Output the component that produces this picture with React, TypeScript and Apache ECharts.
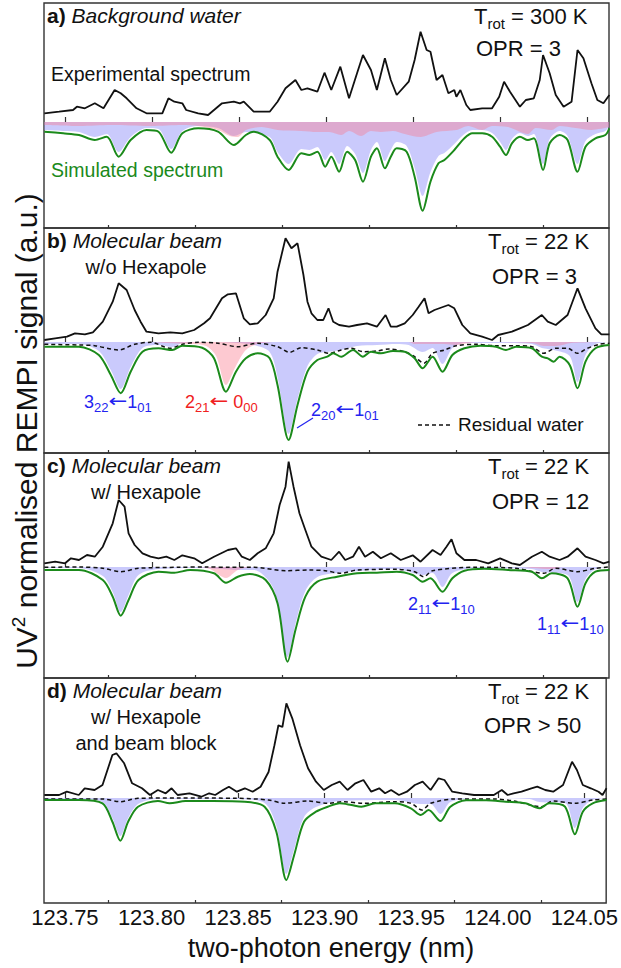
import React, { useEffect, useRef } from "react";
import * as echarts from "echarts";

// ---------- axis ----------
const X_MIN = 123.7379;
const X_MAX = 124.0626;
const majorTicks = [123.75, 123.8, 123.85, 123.9, 123.95, 124.0, 124.05];
const minorTicks = [123.775, 123.825, 123.875, 123.925, 123.975, 124.025];

// ---------- panel a : background water ----------
const expA: number[][] = [[123.7381,8.7],[123.7466,10.3],[123.7546,12],[123.7568,15.3],[123.7614,13.7],[123.7671,18.7],[123.7721,13.7],[123.7785,32],[123.7820,28.7],[123.7854,23.7],[123.7911,13.7],[123.7968,8.7],[123.8059,8.7],[123.8094,23.7],[123.8128,20.3],[123.8174,18.7],[123.8196,12],[123.8265,8.7],[123.8322,7],[123.8402,18.7],[123.8470,20.3],[123.8505,18.7],[123.8527,20.3],[123.8584,10.3],[123.8676,10.3],[123.8721,20.3],[123.8767,33.7],[123.8824,42],[123.8858,32],[123.8893,33.7],[123.8950,30.3],[123.8991,49.3],[123.9030,32],[123.9082,55.3],[123.9132,23.7],[123.9178,48.7],[123.9212,67],[123.9258,52],[123.9292,32],[123.9338,63.7],[123.9372,42],[123.9406,27],[123.9475,40.3],[123.9509,62],[123.9543,90.3],[123.9578,72],[123.9600,70.3],[123.9635,42],[123.9669,47],[123.9703,28.7],[123.9737,32],[123.9749,25.3],[123.9772,32],[123.9806,17],[123.9829,12],[123.9897,13.7],[123.9954,13.7],[123.9995,25.3],[124.0023,40.3],[124.0057,30.3],[124.0114,15.3],[124.0148,22],[124.0194,23.7],[124.0228,42],[124.0247,67],[124.0285,48.7],[124.0320,27],[124.0365,15.3],[124.0411,20.3],[124.0445,72],[124.0479,63.7],[124.0525,38.7],[124.0559,22],[124.0594,18.7],[124.0628,27]];
const simA: number[][] = [[123.7381,-9.7],[123.7489,-11.3],[123.7580,-13],[123.7671,-18],[123.7740,-14.7],[123.7808,-34.7],[123.7877,-18],[123.7968,-8],[123.8037,-9.7],[123.8110,-30.7],[123.8174,-11.3],[123.8265,-6.3],[123.8379,-9.7],[123.8470,-23],[123.8539,-13],[123.8584,-9.7],[123.8676,-18],[123.8721,-34.7],[123.8785,-48],[123.8858,-31.3],[123.8904,-33],[123.8950,-29.7],[123.8995,-44.7],[123.9030,-34.7],[123.9075,-49.7],[123.9121,-29.7],[123.9167,-38],[123.9212,-59.7],[123.9258,-34.7],[123.9292,-26.3],[123.9338,-46.3],[123.9372,-34.7],[123.9406,-26.3],[123.9463,-29.7],[123.9509,-54.7],[123.9555,-88.7],[123.9600,-59.7],[123.9646,-41.3],[123.9680,-38],[123.9737,-28],[123.9795,-16.3],[123.9840,-11.3],[123.9897,-11.3],[123.9954,-14.7],[124.0000,-24.7],[124.0034,-33],[124.0068,-21.3],[124.0114,-14.7],[124.0160,-18],[124.0194,-16.3],[124.0247,-48],[124.0285,-21.3],[124.0342,-13],[124.0388,-18],[124.0445,-49.7],[124.0491,-24.7],[124.0548,-16.3],[124.0605,-13],[124.0628,-6.3]];
const orthoA: number[][] = [[123.7381,-8],[123.7489,-9],[123.7580,-10],[123.7671,-15],[123.7740,-12],[123.7808,-30],[123.7877,-15],[123.7968,-6],[123.8037,-7],[123.8110,-27],[123.8174,-9],[123.8265,-4],[123.8379,-6],[123.8470,-14],[123.8539,-10],[123.8676,-15],[123.8721,-30],[123.8785,-42],[123.8858,-27],[123.8904,-28],[123.8950,-25],[123.8995,-38],[123.9030,-30],[123.9075,-42],[123.9121,-24],[123.9167,-32],[123.9212,-51],[123.9258,-28],[123.9292,-20],[123.9338,-39],[123.9372,-28],[123.9406,-20],[123.9463,-24],[123.9509,-46],[123.9555,-74],[123.9600,-50],[123.9646,-34],[123.9680,-31],[123.9737,-22],[123.9795,-12],[123.9840,-8],[123.9897,-8],[123.9954,-11],[124.0000,-20],[124.0034,-28],[124.0068,-17],[124.0114,-11],[124.0160,-14],[124.0194,-12],[124.0247,-42],[124.0285,-17],[124.0342,-9],[124.0388,-14],[124.0445,-42],[124.0491,-19],[124.0548,-12],[124.0605,-9],[124.0628,-4]];
const paraA: number[][] = [[123.7381,-3],[123.7580,-4],[123.7763,-3],[123.7991,-4],[123.8174,-3],[123.8265,-4],[123.8379,-8],[123.8447,-14],[123.8493,-15],[123.8539,-8],[123.8630,-5],[123.8721,-8],[123.8858,-9],[123.8950,-10],[123.9018,-10],[123.9087,-13],[123.9132,-9],[123.9201,-14],[123.9258,-9],[123.9315,-10],[123.9384,-9],[123.9452,-12],[123.9543,-15],[123.9635,-10],[123.9749,-8],[123.9817,-4],[123.9897,-8],[123.9954,-4],[124.0046,-5],[124.0160,-12],[124.0205,-6],[124.0297,-8],[124.0342,-4],[124.0434,-6],[124.0525,-8],[124.0628,-5]];

// ---------- panel b : molecular beam w/o hexapole ----------
const expB: number[][] = [[123.7381,2],[123.7443,3.7],[123.7511,5.3],[123.7557,8.7],[123.7614,7.7],[123.7660,9.7],[123.7717,20.3],[123.7774,40.3],[123.7808,58.7],[123.7854,52],[123.7900,32],[123.7934,20.3],[123.7968,10.3],[123.8037,8.7],[123.8105,9.7],[123.8174,8.7],[123.8242,12],[123.8299,18.7],[123.8333,23.7],[123.8402,43.7],[123.8436,47.7],[123.8482,48.7],[123.8527,23.7],[123.8562,17.7],[123.8607,18.7],[123.8653,27],[123.8699,43.7],[123.8721,70.3],[123.8767,103.7],[123.8801,93.7],[123.8836,98.7],[123.8870,67],[123.8893,40.3],[123.8916,28.7],[123.8950,22],[123.8984,22],[123.9014,33.7],[123.9041,20.3],[123.9075,17],[123.9132,15.3],[123.9178,17],[123.9235,18.7],[123.9292,15.3],[123.9342,27],[123.9372,15.3],[123.9406,15.3],[123.9452,18.7],[123.9498,27],[123.9532,35.3],[123.9566,43.7],[123.9589,28.7],[123.9623,32],[123.9703,37],[123.9737,33.7],[123.9783,17],[123.9829,8.7],[123.9897,5.3],[123.9954,2],[123.9989,7],[124.0068,10.3],[124.0114,13.7],[124.0160,17],[124.0240,27],[124.0274,20.3],[124.0320,17],[124.0388,27],[124.0445,53.7],[124.0491,33.7],[124.0548,13.7],[124.0582,7.7],[124.0628,7.7]];
const simB: number[][] = [[123.7381,-4.7],[123.7580,-4.7],[123.7694,-13],[123.7763,-33],[123.7820,-51.3],[123.7877,-29.7],[123.7945,-9.7],[123.8037,-6.3],[123.8116,-8],[123.8174,-3.7],[123.8288,-5.7],[123.8356,-16.3],[123.8425,-49.7],[123.8482,-29.7],[123.8539,-16.3],[123.8607,-11.3],[123.8676,-16.3],[123.8721,-43],[123.8785,-98],[123.8836,-63],[123.8893,-29.7],[123.8950,-18],[123.9007,-14.7],[123.9041,-11.3],[123.9087,-14.7],[123.9155,-8],[123.9212,-14.7],[123.9258,-9.7],[123.9315,-11.3],[123.9384,-9],[123.9452,-9.7],[123.9509,-16.3],[123.9555,-26.3],[123.9612,-14.7],[123.9669,-29.7],[123.9726,-13],[123.9795,-6.3],[123.9886,-3.7],[123.9977,-4.7],[124.0034,-8],[124.0091,-4.7],[124.0183,-6.3],[124.0240,-14.7],[124.0274,-16.3],[124.0308,-19.7],[124.0342,-14.7],[124.0400,-23],[124.0445,-46.3],[124.0491,-19.7],[124.0548,-6.3],[124.0628,-3]];
const resB: number[][] = [[123.7381,-2.3],[123.7580,-3],[123.7671,-3.7],[123.7808,-8],[123.7900,-2.3],[123.7991,-0.3],[123.8105,-6.3],[123.8174,-2.3],[123.8265,-0.3],[123.8379,-1.3],[123.8493,-4.7],[123.8607,-1.3],[123.8721,-4.7],[123.8790,-10.3],[123.8858,-5.7],[123.8950,-8],[123.9018,-11.3],[123.9087,-8],[123.9144,-6.3],[123.9212,-9.7],[123.9292,-9],[123.9361,-7],[123.9452,-9.7],[123.9509,-14.7],[123.9562,-21.3],[123.9612,-11.3],[123.9680,-8],[123.9749,-3.7],[123.9863,-2.3],[123.9977,-3.7],[124.0091,-3.7],[124.0183,-4.7],[124.0251,-11.3],[124.0320,-6.3],[124.0388,-6.3],[124.0445,-11.3],[124.0502,-6.3],[124.0571,-2.3],[124.0628,-1.3]];
const orthoB: number[][] = [[123.7381,-2],[123.7580,-2],[123.7694,-9],[123.7763,-28],[123.7820,-47],[123.7877,-25],[123.7945,-6],[123.8037,-3],[123.8116,-5],[123.8174,-1],[123.8311,0],[123.8493,-1],[123.8584,-3],[123.8676,-10],[123.8721,-35],[123.8785,-92],[123.8836,-57],[123.8893,-24],[123.8950,-12],[123.9007,-10],[123.9087,-8],[123.9178,-4],[123.9292,-3],[123.9406,-2],[123.9475,-3],[123.9555,-10],[123.9612,-6],[123.9669,-22],[123.9726,-6],[123.9795,-1],[123.9977,-1],[124.0183,-2],[124.0240,-6],[124.0308,-8],[124.0400,-14],[124.0445,-40],[124.0491,-13],[124.0548,-2],[124.0628,0]];
const paraB: number[][] = [[123.7381,0],[123.7991,0],[123.8082,-1],[123.8219,-2],[123.8311,-4],[123.8368,-14],[123.8425,-43],[123.8482,-24],[123.8539,-8],[123.8607,-2],[123.8721,0],[123.9475,0],[123.9509,-2],[123.9589,-2],[123.9680,-2],[123.9749,-3],[123.9863,0],[124.0183,-1],[124.0251,-4],[124.0320,-4],[124.0411,-1],[124.0628,0]];

// ---------- panel c : molecular beam w/ hexapole ----------
const expC: number[][] = [[123.7381,3.7],[123.7443,5.3],[123.7500,3.7],[123.7534,8.7],[123.7580,7],[123.7626,12],[123.7671,10.3],[123.7717,20.3],[123.7774,43.7],[123.7808,67],[123.7842,60.3],[123.7865,33.7],[123.7900,22],[123.7945,13.7],[123.7991,10.3],[123.8037,8.7],[123.8082,10.3],[123.8128,7],[123.8174,11.7],[123.8242,8.7],[123.8288,3.7],[123.8356,10.3],[123.8436,17],[123.8482,18.7],[123.8516,10.3],[123.8562,7],[123.8607,13.7],[123.8653,18.7],[123.8699,33.7],[123.8733,62],[123.8767,80.3],[123.8785,105.3],[123.8813,80.3],[123.8847,53.7],[123.8881,37],[123.8916,20.3],[123.8973,10.3],[123.9030,7],[123.9075,15.3],[123.9110,7],[123.9155,10.3],[123.9189,20.3],[123.9224,10.3],[123.9269,15.3],[123.9315,8.7],[123.9372,13.7],[123.9429,7],[123.9498,11.7],[123.9543,5.3],[123.9612,17],[123.9658,12],[123.9692,20.3],[123.9721,27.7],[123.9749,13.7],[123.9795,7],[123.9863,7],[123.9932,3.7],[124.0000,8.7],[124.0068,3.7],[124.0114,2],[124.0183,10.3],[124.0240,15.3],[124.0285,10.3],[124.0342,7],[124.0388,10.3],[124.0445,18.7],[124.0491,10.3],[124.0548,7],[124.0594,3.7],[124.0628,5.3]];
const simC: number[][] = [[123.7381,-3],[123.7580,-3],[123.7717,-13],[123.7774,-29.7],[123.7820,-48.7],[123.7865,-33],[123.7922,-13],[123.8037,-4.7],[123.8128,-5.7],[123.8219,-3],[123.8356,-6.3],[123.8425,-15.7],[123.8493,-9.7],[123.8562,-7],[123.8653,-13],[123.8721,-36.3],[123.8779,-94.7],[123.8824,-63],[123.8881,-29.7],[123.8950,-14.7],[123.9064,-9.7],[123.9178,-6.3],[123.9292,-5.7],[123.9406,-4.7],[123.9498,-8],[123.9555,-14.7],[123.9600,-11.3],[123.9669,-24.7],[123.9726,-11.3],[123.9795,-3.7],[123.9909,-1.7],[124.0046,-3],[124.0183,-4.7],[124.0240,-11.3],[124.0297,-6.3],[124.0388,-11.3],[124.0445,-39.7],[124.0491,-16.3],[124.0548,-4.7],[124.0628,-3]];
const resC: number[][] = [[123.7381,-0.3],[123.7580,0],[123.7717,-1.3],[123.7820,-4.7],[123.7922,-1.3],[123.8151,-0.3],[123.8311,0],[123.8447,-0.3],[123.8584,-0.3],[123.8767,-3.7],[123.8904,-3],[123.8995,-3.7],[123.9087,-6.3],[123.9178,-3],[123.9406,-2.3],[123.9509,-4.7],[123.9562,-9.7],[123.9612,-3.7],[123.9863,-0.3],[124.0091,-1.3],[124.0251,-6.3],[124.0320,-1.3],[124.0445,-4.7],[124.0548,-1.3],[124.0628,0]];
const orthoC: number[][] = [[123.7381,-1],[123.7580,-1],[123.7717,-9],[123.7774,-25],[123.7820,-45],[123.7865,-28],[123.7922,-8],[123.8037,-2],[123.8265,-1],[123.8402,-2],[123.8493,-3],[123.8584,-3],[123.8699,-22],[123.8779,-90],[123.8824,-57],[123.8881,-24],[123.8950,-10],[123.9064,-6],[123.9406,-2],[123.9555,-8],[123.9612,-6],[123.9669,-20],[123.9726,-6],[123.9863,-1],[124.0183,-2],[124.0240,-5],[124.0388,-8],[124.0445,-35],[124.0491,-12],[124.0548,-2],[124.0628,0]];
const paraC: number[][] = [[123.7381,0],[123.8265,0],[123.8333,-2],[123.8425,-11],[123.8493,-3],[123.8584,0],[124.0137,0],[124.0183,-1],[124.0297,-2],[124.0365,0],[124.0628,0]];

// ---------- panel d : w/ hexapole and beam block ----------
const expD: number[][] = [[123.7381,3],[123.7466,3],[123.7511,6.3],[123.7580,3],[123.7614,9.7],[123.7671,8],[123.7717,13],[123.7774,43],[123.7797,44.7],[123.7842,34.7],[123.7888,14.7],[123.7945,9.7],[123.7991,3],[123.8037,8],[123.8082,4.7],[123.8116,9.7],[123.8151,3],[123.8219,4.7],[123.8288,1.3],[123.8333,4.7],[123.8368,3],[123.8413,8],[123.8447,11.3],[123.8493,6.3],[123.8539,9.7],[123.8584,6.3],[123.8630,11.3],[123.8676,26],[123.8710,52.7],[123.8733,72.7],[123.8756,71],[123.8779,94.7],[123.8813,79.7],[123.8858,52.7],[123.8904,29.7],[123.8950,16.3],[123.8995,8],[123.9041,13],[123.9087,16.3],[123.9132,8],[123.9178,14.7],[123.9224,18],[123.9269,6.3],[123.9315,9.7],[123.9349,4.7],[123.9384,8],[123.9429,3],[123.9475,6.3],[123.9521,13],[123.9566,16.3],[123.9612,8],[123.9658,19.7],[123.9692,18],[123.9737,6.3],[123.9795,4.7],[123.9863,3],[123.9977,3],[124.0023,8],[124.0057,3],[124.0091,4.7],[124.0137,6.3],[124.0194,9.7],[124.0228,11.3],[124.0274,8],[124.0320,6.3],[124.0377,13],[124.0429,36.3],[124.0457,28],[124.0491,13],[124.0537,9.7],[124.0582,6.3],[124.0605,3],[124.0628,9.7]];
const simD: number[][] = [[123.7381,-2],[123.7580,-2],[123.7717,-5.3],[123.7774,-23.7],[123.7820,-42.7],[123.7865,-23.7],[123.7922,-8.7],[123.8037,-3],[123.8105,-5.3],[123.8196,-3],[123.8356,-3],[123.8539,-3.7],[123.8653,-8.7],[123.8721,-33.7],[123.8779,-82],[123.8824,-57],[123.8881,-23.7],[123.8950,-13.7],[123.9018,-8.7],[123.9087,-5.3],[123.9155,-7],[123.9212,-8.7],[123.9292,-5.3],[123.9406,-5.3],[123.9498,-10.3],[123.9555,-17],[123.9600,-12],[123.9669,-23],[123.9726,-8.7],[123.9817,-2.3],[123.9932,-2.3],[124.0046,-3.7],[124.0160,-5.3],[124.0240,-10.3],[124.0297,-5.3],[124.0388,-8.7],[124.0445,-36.3],[124.0491,-13.7],[124.0548,-5.3],[124.0628,-2]];
const resD: number[][] = [[123.7381,-1],[123.7580,-1],[123.7717,-1],[123.7820,-3.7],[123.7922,-0.3],[123.8151,0],[123.8493,-0.3],[123.8676,-2],[123.8767,-5.3],[123.8904,-3],[123.9018,-5.3],[123.9110,-3.7],[123.9224,-5.3],[123.9406,-3.7],[123.9498,-5.3],[123.9562,-12],[123.9612,-5.3],[123.9749,-1],[123.9977,-1],[124.0091,-3],[124.0251,-8.7],[124.0320,-3],[124.0445,-5.3],[124.0548,-2],[124.0628,-1]];
const orthoD: number[][] = [[123.7381,-1],[123.7580,-1],[123.7717,-4],[123.7774,-20],[123.7820,-38],[123.7865,-20],[123.7922,-6],[123.8037,-1],[123.8493,-1],[123.8653,-5],[123.8721,-28],[123.8779,-76],[123.8824,-51],[123.8881,-19],[123.8950,-9],[123.9087,-3],[123.9406,-2],[123.9555,-6],[123.9612,-6],[123.9669,-16],[123.9726,-4],[123.9863,0],[124.0183,-1],[124.0240,-4],[124.0388,-5],[124.0445,-30],[124.0491,-10],[124.0548,-2],[124.0628,0]];

const panelRanges = [[-106, 119], [-111, 114], [-111, 114], [-105, 120]];

// ---------- layout / style ----------
const W = 621, H = 968;
const GRID_LEFT = 44, GRID_W = 565, GRID_H = 225;
const panelTops = [3, 228, 453, 678];
const FONT = '"Liberation Sans", Arial, sans-serif';
const ARROW_FONT = '"DejaVu Sans", sans-serif';
const BLACK = "#111111";
const GREEN = "#1b8a1b";
const BLUE_TXT = "#2323f0";
const RED_TXT = "#f02020";
const BLUE_FILL = "rgba(150,150,250,0.5)";
const PINK_FILL = "rgba(250,120,140,0.4)";

type Run = { t: string; s: number; dy?: number; c?: string; st?: string; w?: string; f?: string; sx?: number };

let measureCtx: CanvasRenderingContext2D | null = null;
function tw(r: Run): number {
  if (!measureCtx) measureCtx = document.createElement("canvas").getContext("2d");
  measureCtx!.font = `${r.st || "normal"} ${r.w || "normal"} ${r.s}px ${r.f || FONT}`;
  return measureCtx!.measureText(r.t).width * (r.sx || 1);
}

function runs(x0: number, base: number, parts: Run[], align = "left", color = BLACK): any[] {
  const ws = parts.map(tw);
  const total = ws.reduce((a, b) => a + b, 0);
  let x = align === "center" ? x0 - total / 2 : align === "right" ? x0 - total : x0;
  return parts.map((p, i) => {
    const el: any = {
      type: "text",
      x,
      y: base + (p.dy || 0) - 0.35 * p.s,
      silent: true,
      style: {
        text: p.t,
        fontSize: p.s,
        fontFamily: p.f || FONT,
        fontStyle: p.st || "normal",
        fontWeight: p.w || "normal",
        fill: p.c || color,
        textAlign: "left",
        textVerticalAlign: "middle",
      },
    };
    if (p.sx) el.scaleX = p.sx;
    x += ws[i];
    return el;
  });
}

function trans(x: number, base: number, a: string, aSub: string, b: string, bSub: string, color: string, gap = false) {
  const parts: Run[] = [
    { t: a, s: 18 },
    { t: aSub, s: 13, dy: 4 },
    { t: "\u2190", s: 18, f: ARROW_FONT, sx: 1.25, dy: -1 },
  ];
  if (gap) parts.push({ t: " ", s: 18 });
  parts.push({ t: b, s: 18 }, { t: bSub, s: 13, dy: 4 });
  return runs(x, base, parts, "left", color);
}

function trot(x: number, base: number, val: string) {
  return runs(x, base, [{ t: "T", s: 22 }, { t: "rot", s: 15, dy: 5 }, { t: " = " + val, s: 22 }]);
}

function panelLabel(base: number, letter: string, title: string) {
  return runs(47, base, [{ t: letter, s: 21, w: "bold" }, { t: " " + title, s: 21, st: "italic" }]);
}

function buildOption() {
  const grids: any[] = [];
  const xAxes: any[] = [];
  const yAxes: any[] = [];
  const series: any[] = [];
  const panels = [
    { exp: expA, sim: simA, ortho: orthoA, para: paraA, res: null },
    { exp: expB, sim: simB, ortho: orthoB, para: paraB, res: resB },
    { exp: expC, sim: simC, ortho: orthoC, para: paraC, res: resC },
    { exp: expD, sim: simD, ortho: orthoD, para: null, res: resD },
  ];
  panels.forEach((p, i) => {
    grids.push({
      left: GRID_LEFT, top: panelTops[i], width: GRID_W, height: GRID_H,
      show: true, borderColor: "#333", borderWidth: 1.4, backgroundColor: "transparent",
    });
    const common = {
      type: "value", gridIndex: i, min: X_MIN, max: X_MAX, position: "bottom",
      axisLine: { show: false }, splitLine: { show: false },
    };
    xAxes.push({
      ...common,
      axisTick: { show: true, inside: true, length: 5, customValues: majorTicks, lineStyle: { color: "#333", width: 1.2 } },
      axisLabel: {
        show: i === 3, customValues: majorTicks, margin: 3, fontSize: 22, fontFamily: FONT, color: BLACK,
        formatter: (v: number) => v.toFixed(2),
      },
    });
    xAxes.push({
      ...common,
      axisTick: { show: true, inside: true, length: 3, customValues: minorTicks, lineStyle: { color: "#333", width: 1.2 } },
      axisLabel: { show: false },
    });
    yAxes.push({ type: "value", gridIndex: i, min: panelRanges[i][0], max: panelRanges[i][1], show: false });
    const xi = 2 * i;
    const area = (data: number[][], color: string) => ({
      type: "line", xAxisIndex: xi, yAxisIndex: i, data, smooth: 0.3, showSymbol: false, symbol: "none",
      lineStyle: { width: 0, opacity: 0 }, areaStyle: { color, opacity: 1 }, silent: true, z: 1,
    });
    series.push(area(p.ortho, BLUE_FILL));
    if (p.para) series.push(area(p.para, PINK_FILL));
    if (p.res) series.push({
      type: "line", xAxisIndex: xi, yAxisIndex: i, data: p.res, smooth: 0.3, symbol: "none",
      lineStyle: { color: BLACK, width: 1.5, type: [4, 3] }, z: 3,
    });
    series.push({
      type: "line", xAxisIndex: xi, yAxisIndex: i, data: p.sim, smooth: 0.3, symbol: "none",
      lineStyle: { color: GREEN, width: 2 }, z: 4,
    });
    series.push({
      type: "line", xAxisIndex: xi, yAxisIndex: i, data: p.exp, symbol: "none",
      lineStyle: { color: BLACK, width: 1.8 }, z: 4,
    });
  });

  // y-axis title (rotated)
  const yParts: Run[] = [{ t: "UV", s: 30 }, { t: "2", s: 19, dy: -12 }, { t: " normalised REMPI signal (a.u.)", s: 30 }];
  const yTotal = yParts.map(tw).reduce((a, b) => a + b, 0);
  const yTitle = {
    type: "group", x: 37, y: 431, rotation: Math.PI / 2,
    children: runs(-yTotal / 2, 0, yParts),
  };

  const graphic: any[] = [
    // panel a
    ...panelLabel(23, "a)", "Background water"),
    ...runs(51, 81, [{ t: "Experimental spectrum", s: 19.5 }]),
    ...runs(51, 177, [{ t: "Simulated spectrum", s: 19.5 }], "left", GREEN),
    ...trot(474, 24, "300 K"),
    ...runs(476, 56, [{ t: "OPR = 3", s: 22 }]),
    // panel b
    ...panelLabel(248, "b)", "Molecular beam"),
    ...runs(146, 274, [{ t: "w/o Hexapole", s: 20 }], "center"),
    ...trot(488, 249, "22 K"),
    ...runs(492, 284, [{ t: "OPR = 3", s: 22 }]),
    ...trans(84, 408, "3", "22", "1", "01", BLUE_TXT),
    ...trans(185, 408, "2", "21", "0", "00", RED_TXT, true),
    ...trans(311, 416, "2", "20", "1", "01", BLUE_TXT),
    { type: "line", silent: true, shape: { x1: 297, y1: 428, x2: 313, y2: 418 }, style: { stroke: BLUE_TXT, lineWidth: 1.2 } },
    { type: "line", silent: true, shape: { x1: 418, y1: 425, x2: 450, y2: 425 }, style: { stroke: BLACK, lineWidth: 1.5, lineDash: [4, 3] } },
    ...runs(458, 431, [{ t: "Residual water", s: 19 }]),
    // panel c
    ...panelLabel(473, "c)", "Molecular beam"),
    ...runs(146, 499, [{ t: "w/ Hexapole", s: 20 }], "center"),
    ...trot(488, 474, "22 K"),
    ...runs(492, 509, [{ t: "OPR = 12", s: 22 }]),
    ...trans(408, 610, "2", "11", "1", "10", BLUE_TXT),
    ...trans(537, 630, "1", "11", "1", "10", BLUE_TXT),
    // panel d
    ...panelLabel(698, "d)", "Molecular beam"),
    ...runs(146, 724, [{ t: "w/ Hexapole", s: 20 }], "center"),
    ...runs(146, 750, [{ t: "and beam block", s: 20 }], "center"),
    ...trot(488, 699, "22 K"),
    ...runs(484, 733, [{ t: "OPR > 50", s: 22 }]),
    // axis titles
    ...runs(331, 957, [{ t: "two-photon energy (nm)", s: 27 }], "center"),
    yTitle,
  ];

  return {
    animation: false,
    backgroundColor: "#ffffff",
    grid: grids,
    xAxis: xAxes,
    yAxis: yAxes,
    series,
    graphic,
  };
}

export default function App() {
  const ref = useRef<HTMLDivElement>(null);
  useEffect(() => {
    if (!ref.current) return;
    const chart = echarts.init(ref.current, null, { renderer: "svg", width: W, height: H });
    chart.setOption(buildOption() as any);
    return () => chart.dispose();
  }, []);
  return <div ref={ref} style={{ position: "fixed", left: 0, top: 0, width: W, height: H }} />;
}
